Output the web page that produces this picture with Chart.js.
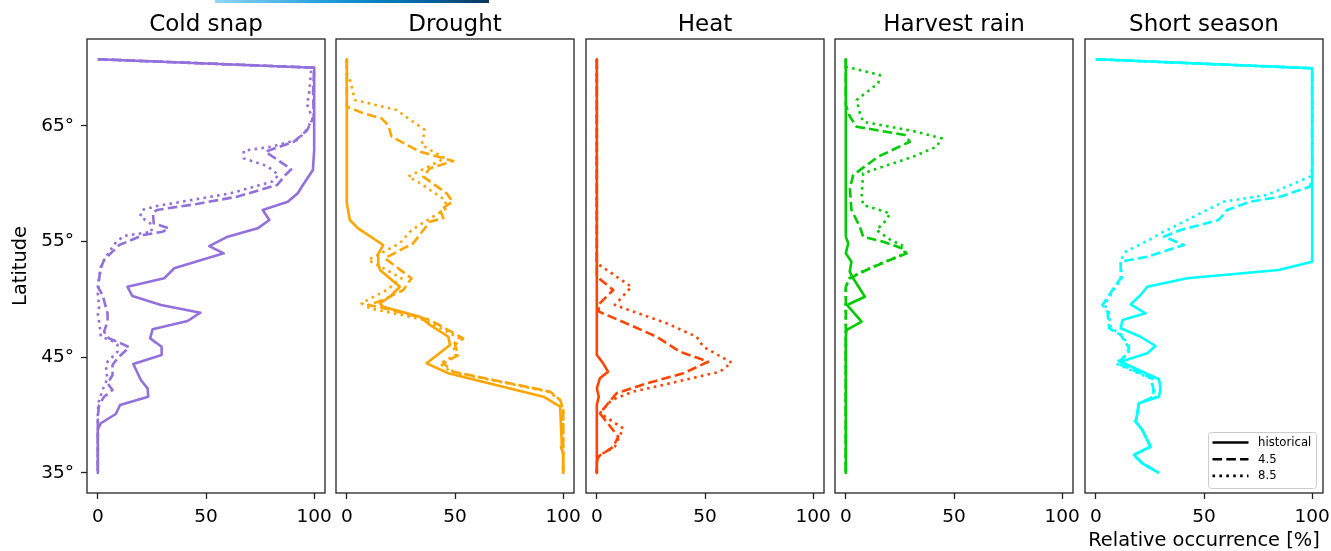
<!DOCTYPE html>
<html>
<head>
<meta charset="utf-8">
<script src="https://cdn.jsdelivr.net/npm/chart.js@4.4.1/dist/chart.umd.min.js"></script>
<style>
  html, body { margin: 0; padding: 0; background: #fff; overflow: hidden; }
  #wrap { position: relative; width: 1331px; height: 551px; overflow: hidden; }
  #wrap canvas { position: absolute; top: 0; }
  #bar {
    position: absolute; left: 215px; top: 0; width: 274px; height: 3px;
    background: linear-gradient(to right, #90d5f7 0%, #4cb4e7 25%, #1292d2 48%, #077cbd 63%, #065b92 82%, #0c3559 100%);
  }
</style>
</head>
<body>
<div id="wrap">
  <div id="bar"></div>
  <canvas id="panel0"></canvas>
  <canvas id="panel1"></canvas>
  <canvas id="panel2"></canvas>
  <canvas id="panel3"></canvas>
  <canvas id="panel4"></canvas>
</div>
<script>
// each row: [latitude, relative occurrence %]
const panelTitles = ['Cold snap', 'Drought', 'Heat', 'Harvest rain', 'Short season'];
const scenarioLabels = ['historical', '4.5', '8.5'];
const latTicks = [35, 45, 55, 65];
const occTicks = [0, 50, 100];

// Cold snap
const coldSnapHist = [[70.77,0],[70.04,100],[62.92,100],[61.2,99.4],[59.9,94.8],[59.18,92.4],[58.45,87.8],[57.74,76.2],[56.87,79.3],[56.15,73.9],[55.43,60.0],[54.62,51.5],[53.99,58.2],[52.7,35.3],[51.83,30.7],[51.1,13.7],[50.3,16.0],[49.52,29.2],[48.86,47.4],[48.14,41.5],[47.42,25.3],[46.64,24.2],[45.92,29.5],[45.2,29.5],[44.42,16.4],[43.04,19.9],[42.32,23.0],[41.6,23.3],[40.88,10.3],[40.1,8.3],[39.3,1.4],[38.77,0],[35,0]];
const coldSnap45 = [[70.77,0],[70.04,100],[67.97,99.5],[65.8,99.8],[64.65,96.8],[63.64,90.6],[62.78,77.5],[61.26,89.4],[60.76,86.7],[59.9,82.9],[58.89,64.4],[58.26,45.8],[57.74,27.3],[57.5,25.5],[56.59,25.8],[56.16,32.7],[55.86,30],[55.58,21.1],[54.71,9.9],[53.43,2.9],[52.7,1.4],[51.8,0.6],[51.1,0],[50.39,2.2],[48.8,4.5],[48.1,4.5],[47.22,2.9],[46.64,5.2],[46.35,9.1],[45.87,14.5],[44.92,9.1],[44.34,6.8],[43.47,6.8],[42.75,4.5],[42.18,6.8],[41.6,2.9],[40.88,0.6],[39.9,0],[35,0]];
const coldSnap85 = [[70.77,0],[70.04,100],[69.8,98.6],[67.53,97.5],[66.96,96.5],[66.24,98],[65.66,99.3],[64.5,96],[63.79,92.1],[63.2,79.8],[62.86,67.4],[62.2,67.4],[61.54,78.2],[60.76,83.6],[60.19,80.6],[59.18,61.3],[58.08,27.3],[57.74,20.4],[57.16,19.6],[56.59,24.2],[55.86,25],[55.49,11.9],[54.86,8],[53.7,3.7],[52.84,1.4],[51.97,0.6],[50.5,0],[49.38,0.6],[48.8,0],[47.8,0.8],[46.78,1.4],[46.5,6],[46.07,9.1],[45.49,9.1],[44.62,4.5],[43.9,3.7],[43.19,4.5],[42.18,2.2],[41.31,0.6],[40.45,0],[35,0]];

// Drought
const droughtHist = [[70.77,0],[58.32,0],[56.87,1.4],[56.15,5.2],[54.71,16.8],[53.93,14.5],[53.13,14.5],[52.55,15.3],[51.1,24.5],[50.24,19.9],[49.67,15.3],[49.38,16.8],[48.51,33.8],[47.8,38.4],[46.78,46.9],[46.07,47.7],[44.48,36.9],[43.62,46.9],[41.6,90.9],[40.73,98.6],[37.27,99.4],[37.2,99],[36.7,100],[35,100]];
const drought45 = [[70.77,0],[66.67,0],[66.1,7.6],[65.66,16],[65.09,19.1],[64.07,20.7],[62.78,33.8],[61.97,49.2],[61.34,38.4],[60.62,35.3],[59.18,46.1],[58.46,48.9],[57.74,43.1],[57.02,44.6],[56.73,38.4],[55.43,33],[54.86,30.7],[53.56,17.6],[51.83,29.9],[50.82,26.1],[49.96,16.8],[49.52,9.9],[49.3,16],[48.23,38.4],[46.64,53.8],[46.07,50],[45.2,51.5],[44.48,44.6],[43.76,49.2],[42.03,94],[41.31,98.6],[40.5,100],[37.5,100],[35,100]];
const drought85 = [[70.77,0],[69.5,0],[68.83,1.7],[67.25,3.7],[66.38,23],[64.65,36.1],[63.36,34.6],[62.21,45.4],[60.62,28.4],[60.05,33.8],[58.6,45.4],[57.88,46.1],[56.29,32.3],[55.86,29.2],[54.86,24.5],[53.41,9.9],[52.55,18.4],[51.83,25.3],[50.82,18.4],[49.67,6.8],[49.24,10.6],[48.23,36.1],[46.64,52],[46.07,49],[45.2,50.5],[44.48,43],[43.76,48],[42.03,93],[41.31,98.6],[40.5,100],[35,100]];

// Heat
const heatHist = [[70.77,0],[45.2,0],[44.48,2.9],[43.76,5.2],[43.19,1.4],[42.32,0],[41.6,0.9],[40.88,0],[35,0]];
const heat45 = [[70.77,0],[51.97,0],[50.82,7.6],[49.52,0.6],[48.95,1],[47.8,15.3],[46.78,27.6],[45.49,38.4],[44.62,51.5],[43.62,40],[42.75,23],[41.89,9.1],[40.16,1.4],[38.14,9.9],[37.27,7.6],[36.41,0.6],[35.9,0],[35,0]];
const heat85 = [[70.77,0],[53.13,0],[51.1,16],[49.52,8.3],[47.94,32.3],[46.78,46.1],[45.92,49.2],[44.54,62.3],[43.76,56.9],[42.75,33.8],[42.03,16.8],[41.31,6.8],[40.16,1.4],[38.86,12.2],[37.27,8.3],[36.56,1.4],[36.1,0],[35,0]];

// Harvest rain
const harvestHist = [[70.77,0],[55.43,0],[54.86,1.1],[53.99,0],[53.27,2.6],[52.4,1.8],[51.83,3.4],[50.24,8.8],[49.52,0.6],[48.08,7.3],[47.36,0.3],[46.78,0],[35,0]];
const harvest45 = [[70.77,0],[66.81,0],[65.8,1.9],[64.94,5],[64.22,27.3],[63.64,29.6],[62.35,15],[60.76,3.4],[59.61,1.9],[57.74,2.6],[56.29,6.5],[55.43,8],[55,17.3],[54.43,25.8],[53.99,28.1],[53.41,20.4],[52.55,9.6],[51.83,1.9],[51.1,0],[35,0]];
const harvest85 = [[70.77,0],[70.13,0],[69.41,15.7],[68.69,15],[67.25,5],[66.1,6.5],[65.37,8],[64.5,32.7],[63.93,44.3],[63.21,42],[62.35,31.2],[60.91,8],[58.89,7.3],[58.17,8],[57.45,20.4],[56.87,18.8],[56.01,14.2],[55.14,20.7],[54.71,25.8],[53.99,27.5],[53.41,20],[52.55,9],[51.83,1.5],[51.1,0],[35,0]];

// Short season
const shortHist = [[70.77,0],[69.99,100],[53.27,100],[52.55,84.5],[51.83,42.2],[51.1,23.8],[50.39,20.7],[49.58,16.1],[48.8,23],[48.23,12.3],[47.51,11.5],[46.78,20.7],[45.98,27.6],[45.35,23.8],[44.62,11.5],[43.1,29.2],[42.32,29.9],[41.6,29.2],[41.03,19.9],[40.16,19.2],[39.44,18.4],[38.72,21.5],[37.27,25.3],[36.56,17.6],[35.84,21.5],[35,29.2]];
const short45 = [[70.77,0],[69.99,100],[60.5,100],[59.76,99],[58.89,85.3],[58.46,71.4],[57.74,60.7],[56.87,56.8],[56.01,39.2],[55.43,31.5],[54.71,40.7],[53.7,23.8],[53.27,11.5],[51.83,11.5],[50.9,8],[49.52,3.1],[48.95,5.4],[47.51,6.2],[46.93,11.5],[45.78,15.4],[45.2,13.8],[44.48,10],[43.19,26.1],[41.6,26.8],[41.03,19.9],[40.16,19.2],[39.44,18.4],[38.72,21.5],[37.27,25.3],[36.56,17.6],[35.84,21.5],[35,29.2]];
const short85 = [[70.77,0],[69.99,100],[61.3,100],[60.62,99],[59.03,79.1],[58.46,59.1],[57.02,43.8],[55.72,29.9],[55.29,26.1],[54.13,13.8],[53.41,11.5],[51.83,12],[50.9,8.5],[49.52,4],[48.95,6],[47.51,7],[46.93,12],[45.78,16],[45.2,14.5],[44.48,9],[43.19,25],[41.6,28],[41.03,19.9],[40.16,19.2],[39.44,18.4],[38.72,21.5],[37.27,25.3],[36.56,17.6],[35.84,21.5],[35,29.2]];

const panelSeries = [
  [coldSnapHist, coldSnap45, coldSnap85],
  [droughtHist, drought45, drought85],
  [heatHist, heat45, heat85],
  [harvestHist, harvest45, harvest85],
  [shortHist, short45, short85]
];
const panelColors = ['#9370db', '#ffa500', '#ff4500', '#00cc00', '#00ffff'];

// layout (pixels)
const areaLeft = [87, 336, 586, 835, 1085];
const areaWidth = 238;
const lineW = 2.6;
const dashes = [[], [9.6, 4.2], [2.6, 4.3]];
const tickFont = { family: 'DejaVu Sans', size: 18.5 };
const labelFont = { family: 'DejaVu Sans', size: 19.4, lineHeight: 1 };

Chart.defaults.font.family = '"DejaVu Sans"';
Chart.defaults.color = '#000';

// black box around each panel
const frame = {
  id: 'frame',
  afterDatasetsDraw(chart) {
    const { ctx, chartArea: a } = chart;
    ctx.save();
    ctx.strokeStyle = '#222';
    ctx.lineWidth = 1.3;
    ctx.strokeRect(a.left, a.top, a.right - a.left, a.bottom - a.top);
    ctx.restore();
  }
};

// scenario legend, lower right of the last panel
const legendBox = {
  id: 'legendBox',
  afterDraw(chart, args, opts) {
    if (!opts.show) return;
    const { ctx, chartArea: a } = chart;
    const w = 108, h = 56;
    const x = a.right - 7 - w, y = a.bottom - 5 - h;
    ctx.save();
    ctx.beginPath();
    ctx.roundRect(x + 0.5, y + 0.5, w, h, 3);
    ctx.fillStyle = 'rgba(255,255,255,0.8)';
    ctx.fill();
    ctx.strokeStyle = '#cccccc';
    ctx.lineWidth = 1;
    ctx.stroke();
    ctx.font = '11.7px "DejaVu Sans"';
    ctx.textBaseline = 'middle';
    ctx.fillStyle = '#000';
    scenarioLabels.forEach((lab, k) => {
      const ry = y + 10.5 + k * 16.7;
      ctx.beginPath();
      ctx.setLineDash(dashes[k]);
      ctx.strokeStyle = '#000';
      ctx.lineWidth = lineW;
      ctx.moveTo(x + 4.5, ry);
      ctx.lineTo(x + 40.5, ry);
      ctx.stroke();
      ctx.setLineDash([]);
      ctx.fillText(lab, x + 50, ry + 0.5);
    });
    ctx.restore();
  }
};

panelTitles.forEach((title, i) => {
  const first = i === 0;
  const padL = first ? 0 : 20;
  const padR = 25;
  const cv = document.getElementById('panel' + i);
  cv.width = (first ? 87 : padL) + areaWidth + padR;
  cv.height = 551;
  cv.style.left = (first ? 0 : areaLeft[i] - padL) + 'px';

  new Chart(cv, {
    type: 'scatter',
    data: {
      datasets: panelSeries[i].map((pts, k) => ({
        label: scenarioLabels[k],
        data: pts.map(p => ({ x: p[1], y: p[0] })),
        showLine: true,
        borderColor: panelColors[i],
        backgroundColor: panelColors[i],
        borderWidth: lineW,
        borderDash: dashes[k],
        borderJoinStyle: 'round',
        pointRadius: 0,
        pointHoverRadius: 0,
        fill: false,
        order: 3 - k
      }))
    },
    options: {
      responsive: false,
      animation: false,
      devicePixelRatio: 1,
      events: [],
      layout: { padding: { left: padL, right: padR, top: 0, bottom: 0 } },
      scales: {
        x: {
          type: 'linear',
          min: -5,
          max: 105,
          afterBuildTicks: s => { s.ticks = occTicks.map(v => ({ value: v })); },
          afterFit: s => { s.height = 58; },
          ticks: { font: tickFont, color: '#000', padding: 7, autoSkip: false, maxRotation: 0 },
          grid: { drawOnChartArea: false, drawTicks: true, tickLength: 6, tickWidth: 1.3, tickColor: '#222' },
          border: { display: false },
          title: {
            display: i === 4,
            text: 'Relative occurrence [%]',
            font: labelFont,
            color: '#000',
            padding: { top: 0, bottom: 0 }
          }
        },
        y: {
          type: 'linear',
          display: first,
          min: 33.27,
          max: 72.52,
          afterBuildTicks: s => { s.ticks = latTicks.map(v => ({ value: v })); },
          afterFit: s => { s.width = first ? 87 : 0; },
          ticks: { font: tickFont, color: '#000', padding: 7, callback: v => v + '°' },
          grid: { drawOnChartArea: false, drawTicks: true, tickLength: 6, tickWidth: 1.3, tickColor: '#222' },
          border: { display: false },
          title: {
            display: true,
            text: 'Latitude',
            font: labelFont,
            color: '#000',
            padding: { top: 11, bottom: 0 }
          }
        }
      },
      plugins: {
        legend: { display: false },
        tooltip: { enabled: false },
        title: {
          display: true,
          text: title,
          fullSize: false,
          color: '#000',
          font: { family: 'DejaVu Sans', size: 23, weight: 'normal', lineHeight: 1 },
          padding: { top: 13.5, bottom: 2.5 }
        },
        legendBox: { show: i === 4 }
      }
    },
    plugins: [frame, legendBox]
  });
});
</script>
</body>
</html>
